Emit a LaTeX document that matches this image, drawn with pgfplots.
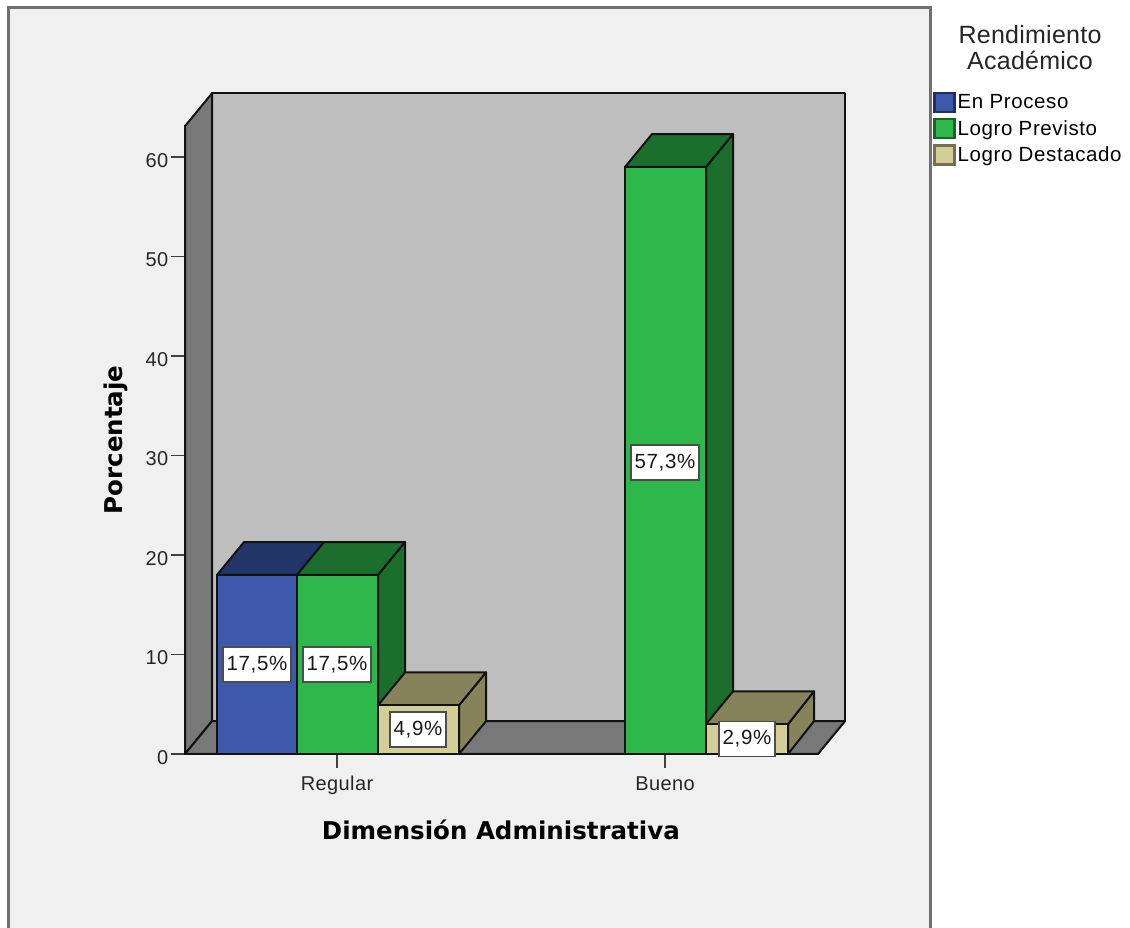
\documentclass[border=0pt]{standalone}
\usepackage{fontspec}
\usepackage{pgfplots}
\pgfplotsset{compat=1.18}
\setmainfont{Liberation Sans}
\newfontfamily\tickfont[LetterSpace=2]{Liberation Sans}
\newfontfamily\legfont[LetterSpace=3]{Liberation Sans}
\newfontfamily\legtitle[LetterSpace=1]{Liberation Sans}
\newfontfamily\axfont{DejaVu Sans}

\definecolor{panel}{HTML}{F0F0F0}
\definecolor{frame}{HTML}{707070}
\definecolor{wallback}{HTML}{BEBEBE}
\definecolor{wallside}{HTML}{787878}
\definecolor{bluef}{HTML}{3E58AC}
\definecolor{bluet}{HTML}{233669}
\definecolor{greenf}{HTML}{2EB84B}
\definecolor{greent}{HTML}{1C6E2C}
\definecolor{tanf}{HTML}{D3CE97}
\definecolor{tant}{HTML}{86825A}
\definecolor{ink}{HTML}{111111}

\pgfplotsset{
  face/.style={forget plot, draw=ink, line width=2pt, line join=round, fill=#1},
  swatch/.style={legend image code/.code={
    \draw[draw=#1!55!black, line width=2.4pt, fill=#1] (0pt,-9.5pt) rectangle (20pt,9.5pt);}},
}

\begin{document}
\begin{tikzpicture}
  \useasboundingbox (0,0) rectangle (1130pt,928pt);
  \fill[white] (0,0) rectangle (1130pt,928pt);
  \draw[frame, line width=3pt, fill=panel] (8.5pt,-6pt) rectangle (930.5pt,920pt);
  \node[font=\fontsize{25}{26}\legtitle, align=center, text=black!85] at (1030pt,880pt)
    {Rendimiento\\[0pt]Académico};

  \begin{axis}[
    at={(185pt,174pt)}, anchor=origin,
    scale only axis,
    width=633pt, height=628.84pt,
    xmin=185, xmax=818, ymin=0, ymax=63.2,
    clip=false,
    axis x line*=bottom, axis y line*=left,
    axis line style={draw=ink, line width=2pt},
    xtick={337,665}, xticklabels={Regular,Bueno},
    ytick={0,10,20,30,40,50,60},
    tick align=outside,
    major tick length=14pt,
    tick style={draw=black!75, line width=1.6pt},
    /pgf/number format/assume math mode=true,
    ticklabel style={font=\fontsize{20}{24}\tickfont, text=black!85},
    xticklabel style={yshift=-4pt, text height=15pt, text depth=4pt},
    yticklabel style={yshift=-3.5pt, inner sep=2.5pt},
    xlabel={Dimensión Administrativa},
    ylabel={Porcentaje},
    label style={font=\fontsize{24.5}{27}\axfont\bfseries},
    x label style={at={(axis description cs:0.499,-0.1209)}, anchor=center},
    y label style={at={(axis description cs:-0.109,0.4993)}, anchor=center},
    legend style={at={(axis description cs:1.1816,1.0535)}, anchor=north west,
      draw=none, fill=none, inner sep=0pt, row sep=4.8pt,
      font=\fontsize{20.5}{20.5}\legfont,
      /tikz/every even column/.append style={column sep=7pt}},
    legend cell align=left,
  ]
    % walls and floor
    \addplot[face=wallback, draw=ink] coordinates {(212,3.3) (845,3.3) (845,66.4) (212,66.4)} --cycle;
    \addplot[face=wallside] coordinates {(185,0) (212,3.3) (212,66.4) (185,63.1)} --cycle;
    \addplot[face=wallside] coordinates {(185,0) (818,0) (845,3.3) (212,3.3)} --cycle;

    % Regular, En Proceso
    \addplot[face=bluet] coordinates {(297,0) (324,3.3) (324,21.3) (297,18)} --cycle;
    \addplot[face=bluet] coordinates {(217,18) (297,18) (324,21.3) (244,21.3)} --cycle;
    \addplot[face=bluef] coordinates {(217,0) (297,0) (297,18) (217,18)} --cycle;
    % Regular, Logro Previsto
    \addplot[face=greent] coordinates {(378,0) (405,3.3) (405,21.3) (378,18)} --cycle;
    \addplot[face=greent] coordinates {(297,18) (378,18) (405,21.3) (324,21.3)} --cycle;
    \addplot[face=greenf] coordinates {(297,0) (378,0) (378,18) (297,18)} --cycle;
    % Regular, Logro Destacado
    \addplot[face=tant] coordinates {(459,0) (486,3.3) (486,8.2) (459,4.9)} --cycle;
    \addplot[face=tant] coordinates {(378,4.9) (459,4.9) (486,8.2) (405,8.2)} --cycle;
    \addplot[face=tanf] coordinates {(378,0) (459,0) (459,4.9) (378,4.9)} --cycle;
    % Bueno, Logro Previsto
    \addplot[face=greent] coordinates {(706,0) (733,3.3) (733,62.3) (706,59)} --cycle;
    \addplot[face=greent] coordinates {(625,59) (706,59) (733,62.3) (652,62.3)} --cycle;
    \addplot[face=greenf] coordinates {(625,0) (706,0) (706,59) (625,59)} --cycle;
    % Bueno, Logro Destacado
    \addplot[face=tant] coordinates {(788,0) (814,3.3) (814,6.3) (788,3)} --cycle;
    \addplot[face=tant] coordinates {(706,3) (788,3) (814,6.3) (733,6.3)} --cycle;
    \addplot[face=tanf] coordinates {(706,0) (788,0) (788,3) (706,3)} --cycle;

    % value labels, centred on the bars
    \addplot[forget plot, draw=none, mark=none,
      point meta=explicit symbolic,
      nodes near coords={\raisebox{-2.5pt}{\pgfplotspointmeta\%}},
      every node near coord/.append style={anchor=center, font=\fontsize{20.5}{24}\legfont,
        fill=white, draw=black!70, line width=1.5pt, text=black!90,
        inner xsep=3.5pt, inner ysep=0pt, minimum height=35pt},
    ] table [x=x, y=y, meta=lab] {
      x   y    lab
      257 9    17,5
      337 9    17,5
      418 2.45 4,9
      665 29.3 57,3
      747 1.5  2,9
    };

    \addlegendimage{swatch=bluef}
    \addlegendentry{En Proceso}
    \addlegendimage{swatch=greenf}
    \addlegendentry{Logro Previsto}
    \addlegendimage{swatch=tanf}
    \addlegendentry{Logro Destacado}
  \end{axis}
\end{tikzpicture}
\end{document}
